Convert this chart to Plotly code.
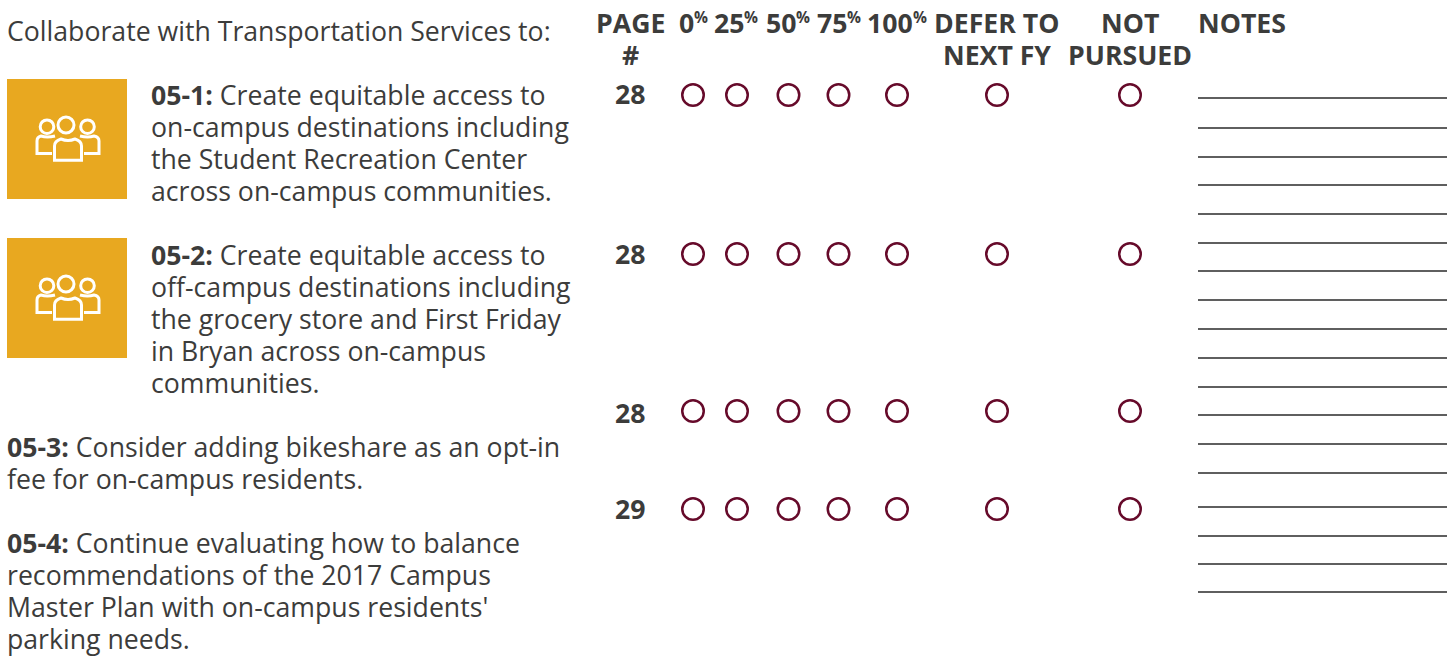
import plotly.graph_objects as go

FONT = "Open Sans"
TEXT = "#3c3c3b"
MAROON = "#660a2a"
GOLD = "#e8a820"
SIZE = 26.67
TEXT_SHIFT = -2

column_names = ["0", "25", "50", "75", "100", "DEFER", "NOT"]
column_x = [693, 737, 788.5, 838.5, 897, 997, 1130]
row_y = [95, 254, 411, 509]
pages = ["28", "28", "28", "29"]
page_y = [95, 255, 414, 510]
note_y = [98, 128, 157, 185, 214, 243, 271, 300, 329, 358, 387, 415, 444, 473, 507, 536, 564, 592]

headers = [
    (630, 24, "<b>PAGE</b>"), (630, 56, "<b>#</b>"),
    (996, 24, "<b>DEFER TO</b>"), (997, 56, "<b>NEXT FY</b>"),
    (1130, 24, "<b>NOT</b>"), (1130, 56, "<b>PURSUED</b>"),
]
percent_labels = ["0", "25", "50", "75", "100"]
percent_split_x = [693.5, 744, 796, 846.5, 912.5]
left_lines = [
    (7, 32, "Collaborate with Transportation Services to:"),
    (151, 96, "<b>05-1:</b> Create equitable access to"),
    (151, 128, "on-campus destinations including"),
    (151, 160, "the Student Recreation Center"),
    (151, 192, "across on-campus communities."),
    (151, 256, "<b>05-2:</b> Create equitable access to"),
    (151, 288, "off-campus destinations including"),
    (151, 320, "the grocery store and First Friday"),
    (151, 352, "in Bryan across on-campus"),
    (151, 384, "communities."),
    (7, 448, "<b>05-3:</b> Consider adding bikeshare as an opt-in"),
    (7, 480, "fee for on-campus residents."),
    (7, 544, "<b>05-4:</b> Continue evaluating how to balance"),
    (7, 576, "recommendations of the 2017 Campus"),
    (7, 608, "Master Plan with on-campus residents'"),
    (7, 640, "parking needs."),
]
icon_tops = [79, 238]
ICON_LEFT, ICON_SIZE = 7, 120

fig = go.Figure()
for name, x in zip(column_names, column_x):
    fig.add_trace(go.Scatter(
        x=[x] * len(row_y), y=row_y, mode="markers", name=name,
        marker=dict(size=21.5, color="rgba(0,0,0,0)", line=dict(color=MAROON, width=2.5)),
        showlegend=False, hoverinfo="skip"))

annotations = []
def add_text(x, y, s, anchor, size):
    annotations.append(dict(x=x, y=y + TEXT_SHIFT, text=s, xanchor=anchor, yanchor="middle", showarrow=False,
                            xref="x", yref="y", align="left", borderpad=0, borderwidth=0,
                            font=dict(family=FONT, size=size, color=TEXT)))
for x, y, s in left_lines:
    add_text(x, y, s, "left", SIZE)
for x, y, s in headers:
    add_text(x, y, s, "center", SIZE)
add_text(1198, 24, "<b>NOTES</b>", "left", SIZE)
for label, x in zip(percent_labels, percent_split_x):
    add_text(x, 24, f"<b>{label}</b>", "right", SIZE)
    add_text(x, 19, "<b>%</b>", "left", 15.5)
for p, y in zip(pages, page_y):
    add_text(630, y, f"<b>{p}</b>", "center", SIZE)

shapes = []
for y in note_y:
    shapes.append(dict(type="line", x0=1198, x1=1447, y0=y, y1=y, line=dict(color="#2a2a2a", width=1.3)))

ICON_W = 3
def ring(cx, cy, r):
    return dict(type="circle", x0=cx - r, x1=cx + r, y0=cy - r, y1=cy + r,
                line=dict(color="white", width=ICON_W), fillcolor="rgba(0,0,0,0)")

for top in icon_tops:
    shapes.append(dict(type="rect", x0=ICON_LEFT, x1=ICON_LEFT + ICON_SIZE, y0=top, y1=top + ICON_SIZE,
                       fillcolor=GOLD, line=dict(width=0), layer="below"))
    t = top
    shapes += [ring(66, t + 46, 8), ring(47, t + 47.7, 6.8), ring(87.5, t + 47.7, 6.8)]
    shapes.append(dict(type="path", line=dict(color="white", width=ICON_W),
        path=f"M 54.5 {t+81.3} L 81.5 {t+81.3} L 81.5 {t+67} Q 81.5 {t+62} 75 {t+60} Q 68 {t+63} 61 {t+60} Q 54.5 {t+62} 54.5 {t+67} Z"))
    shapes.append(dict(type="path", line=dict(color="white", width=ICON_W),
        path=f"M 52 {t+74.5} L 37 {t+74.5} L 37 {t+62} Q 37 {t+58} 41 {t+57} Q 47 {t+59} 55 {t+57}"))
    shapes.append(dict(type="path", line=dict(color="white", width=ICON_W),
        path=f"M 84 {t+74.5} L 99 {t+74.5} L 99 {t+62} Q 99 {t+58} 94 {t+57} Q 88 {t+59} 80 {t+57}"))

fig.update_layout(
    width=1453, height=656, margin=dict(l=0, r=0, t=0, b=0),
    paper_bgcolor="white", plot_bgcolor="white", showlegend=False,
    xaxis=dict(range=[0, 1453], visible=False, fixedrange=True),
    yaxis=dict(range=[656, 0], visible=False, fixedrange=True),
    annotations=annotations, shapes=shapes,
)
fig.write_html("out.html", config={"displayModeBar": False}, default_width="1453px", default_height="656px",
               include_plotlyjs=True, post_script="document.body.style.margin='0';document.body.style.overflow='hidden';")
